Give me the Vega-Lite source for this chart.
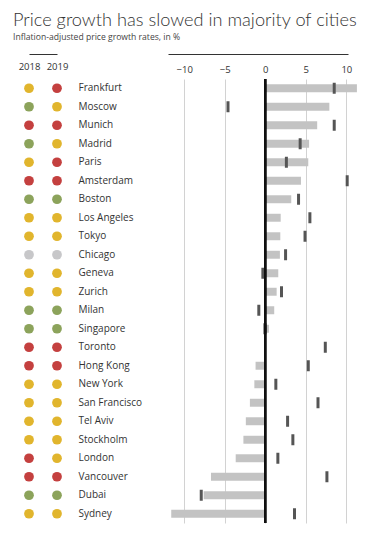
{
  "$schema": "https://vega.github.io/schema/vega-lite/v6.json",
  "padding": {"left": 13, "top": 11, "right": 5, "bottom": 5},
  "title": {
    "text": "Price growth has slowed in majority of cities",
    "subtitle": "Inflation-adjusted price growth rates, in %",
    "anchor": "start",
    "font": "Lato",
    "fontSize": 18.2,
    "fontWeight": 300,
    "color": "#333333",
    "subtitleFont": "Open Sans",
    "subtitleFontSize": 8.6,
    "subtitleColor": "#444444",
    "subtitlePadding": 3,
    "offset": 11.2
  },
  "datasets": {
    "cities": [
      {"city": "Frankfurt", "g2018": 8.5, "g2019": 11.3},
      {"city": "Moscow", "g2018": -4.6, "g2019": 7.9},
      {"city": "Munich", "g2018": 8.5, "g2019": 6.4},
      {"city": "Madrid", "g2018": 4.3, "g2019": 5.4},
      {"city": "Paris", "g2018": 2.6, "g2019": 5.3},
      {"city": "Amsterdam", "g2018": 10.1, "g2019": 4.4},
      {"city": "Boston", "g2018": 4.1, "g2019": 3.2},
      {"city": "Los Angeles", "g2018": 5.5, "g2019": 1.9},
      {"city": "Tokyo", "g2018": 4.9, "g2019": 1.85},
      {"city": "Chicago", "g2018": 2.5, "g2019": 1.8},
      {"city": "Geneva", "g2018": -0.3, "g2019": 1.6},
      {"city": "Zurich", "g2018": 2.0, "g2019": 1.4},
      {"city": "Milan", "g2018": -0.8, "g2019": 1.1},
      {"city": "Singapore", "g2018": -0.05, "g2019": 0.45},
      {"city": "Toronto", "g2018": 7.4, "g2019": 0.0},
      {"city": "Hong Kong", "g2018": 5.3, "g2019": -1.2},
      {"city": "New York", "g2018": 1.3, "g2019": -1.35},
      {"city": "San Francisco", "g2018": 6.5, "g2019": -1.9},
      {"city": "Tel Aviv", "g2018": 2.75, "g2019": -2.4},
      {"city": "Stockholm", "g2018": 3.4, "g2019": -2.7},
      {"city": "London", "g2018": 1.55, "g2019": -3.65},
      {"city": "Vancouver", "g2018": 7.6, "g2019": -6.7},
      {"city": "Dubai", "g2018": -7.9, "g2019": -7.6},
      {"city": "Sydney", "g2018": 3.6, "g2019": -11.6}
    ],
    "risk": [
      {"city": "Frankfurt", "year": "2018", "risk": "Overvalued"},
      {"city": "Frankfurt", "year": "2019", "risk": "Bubble risk"},
      {"city": "Moscow", "year": "2018", "risk": "Fair-valued"},
      {"city": "Moscow", "year": "2019", "risk": "Overvalued"},
      {"city": "Munich", "year": "2018", "risk": "Bubble risk"},
      {"city": "Munich", "year": "2019", "risk": "Bubble risk"},
      {"city": "Madrid", "year": "2018", "risk": "Fair-valued"},
      {"city": "Madrid", "year": "2019", "risk": "Overvalued"},
      {"city": "Paris", "year": "2018", "risk": "Overvalued"},
      {"city": "Paris", "year": "2019", "risk": "Bubble risk"},
      {"city": "Amsterdam", "year": "2018", "risk": "Bubble risk"},
      {"city": "Amsterdam", "year": "2019", "risk": "Bubble risk"},
      {"city": "Boston", "year": "2018", "risk": "Fair-valued"},
      {"city": "Boston", "year": "2019", "risk": "Fair-valued"},
      {"city": "Los Angeles", "year": "2018", "risk": "Overvalued"},
      {"city": "Los Angeles", "year": "2019", "risk": "Overvalued"},
      {"city": "Tokyo", "year": "2018", "risk": "Overvalued"},
      {"city": "Tokyo", "year": "2019", "risk": "Overvalued"},
      {"city": "Chicago", "year": "2018", "risk": "Undervalued"},
      {"city": "Chicago", "year": "2019", "risk": "Undervalued"},
      {"city": "Geneva", "year": "2018", "risk": "Overvalued"},
      {"city": "Geneva", "year": "2019", "risk": "Overvalued"},
      {"city": "Zurich", "year": "2018", "risk": "Overvalued"},
      {"city": "Zurich", "year": "2019", "risk": "Overvalued"},
      {"city": "Milan", "year": "2018", "risk": "Fair-valued"},
      {"city": "Milan", "year": "2019", "risk": "Fair-valued"},
      {"city": "Singapore", "year": "2018", "risk": "Fair-valued"},
      {"city": "Singapore", "year": "2019", "risk": "Fair-valued"},
      {"city": "Toronto", "year": "2018", "risk": "Bubble risk"},
      {"city": "Toronto", "year": "2019", "risk": "Bubble risk"},
      {"city": "Hong Kong", "year": "2018", "risk": "Bubble risk"},
      {"city": "Hong Kong", "year": "2019", "risk": "Bubble risk"},
      {"city": "New York", "year": "2018", "risk": "Overvalued"},
      {"city": "New York", "year": "2019", "risk": "Overvalued"},
      {"city": "San Francisco", "year": "2018", "risk": "Overvalued"},
      {"city": "San Francisco", "year": "2019", "risk": "Overvalued"},
      {"city": "Tel Aviv", "year": "2018", "risk": "Overvalued"},
      {"city": "Tel Aviv", "year": "2019", "risk": "Overvalued"},
      {"city": "Stockholm", "year": "2018", "risk": "Overvalued"},
      {"city": "Stockholm", "year": "2019", "risk": "Overvalued"},
      {"city": "London", "year": "2018", "risk": "Bubble risk"},
      {"city": "London", "year": "2019", "risk": "Overvalued"},
      {"city": "Vancouver", "year": "2018", "risk": "Bubble risk"},
      {"city": "Vancouver", "year": "2019", "risk": "Bubble risk"},
      {"city": "Dubai", "year": "2018", "risk": "Fair-valued"},
      {"city": "Dubai", "year": "2019", "risk": "Fair-valued"},
      {"city": "Sydney", "year": "2018", "risk": "Overvalued"},
      {"city": "Sydney", "year": "2019", "risk": "Overvalued"}
    ]
  },
  "spacing": 0,
  "bounds": "flush",
  "hconcat": [
    {
      "width": 155,
      "height": 444,
      "data": {"name": "risk"},
      "mark": {"type": "circle", "size": 95, "opacity": 1},
      "encoding": {
        "x": {
          "field": "year",
          "type": "nominal",
          "scale": {"type": "point", "domain": ["2018", "2019"], "range": [16, 44], "padding": 0},
          "axis": {
            "orient": "top",
            "offset": 25,
            "title": null,
            "ticks": false,
            "tickSize": 0,
            "domain": true,
            "domainColor": "#333333",
            "domainWidth": 1,
            "labelPadding": -12,
            "labelBaseline": "middle",
            "labelFont": "Open Sans",
            "labelFontSize": 9.5,
            "labelColor": "#333333",
            "labelAngle": 0
          }
        },
        "y": {
          "field": "city",
          "type": "nominal",
          "sort": null,
          "scale": {"type": "band", "paddingInner": 0, "paddingOuter": 0},
          "axis": {
            "orient": "left",
            "title": null,
            "ticks": false,
            "tickSize": 0,
            "domain": false,
            "labelAlign": "left",
            "labelBaseline": "middle",
            "labelPadding": -65,
            "labelFont": "Open Sans",
            "labelFontSize": 10,
            "labelColor": "#333333"
          }
        },
        "color": {
          "field": "risk",
          "type": "nominal",
          "scale": {
            "domain": ["Bubble risk", "Overvalued", "Fair-valued", "Undervalued"],
            "range": ["#c4403f", "#e1b52d", "#8ca35b", "#c7c7c9"]
          },
          "legend": null
        }
      }
    },
    {
      "width": 180,
      "height": 444,
      "data": {"name": "cities"},
      "encoding": {
        "y": {
          "field": "city",
          "type": "nominal",
          "sort": null,
          "scale": {"type": "band", "paddingInner": 0, "paddingOuter": 0},
          "axis": null
        }
      },
      "layer": [
        {
          "mark": {"type": "bar", "color": "#c3c3c3", "height": {"band": 0.43}},
          "encoding": {
            "x": {
              "field": "g2019",
              "type": "quantitative",
              "scale": {"domain": [-12, 10.2], "nice": false},
              "axis": {
                "orient": "top",
                "offset": 25,
                "title": null,
                "values": [-10, -5, 0, 5, 10],
                "ticks": false,
                "tickSize": 0,
                "domain": true,
                "domainColor": "#333333",
                "domainWidth": 1,
                "grid": true,
                "gridColor": "#d2d2d2",
                "gridWidth": 1,
                "labelPadding": -15,
                "labelBaseline": "middle",
                "labelFont": "Open Sans",
                "labelFontSize": 9.5,
                "labelColor": "#333333",
                "labelFlush": false
              }
            }
          }
        },
        {
          "mark": {"type": "tick", "color": "#555555", "thickness": 3, "size": 11, "opacity": 1},
          "encoding": {
            "x": {"field": "g2018", "type": "quantitative"}
          }
        },
        {
          "mark": {"type": "rule", "color": "#111111", "strokeWidth": 1.5},
          "encoding": {
            "x": {"datum": 0, "type": "quantitative"},
            "y": null
          }
        }
      ]
    }
  ],
  "config": {
    "view": {"stroke": null},
    "font": "Open Sans"
  }
}
